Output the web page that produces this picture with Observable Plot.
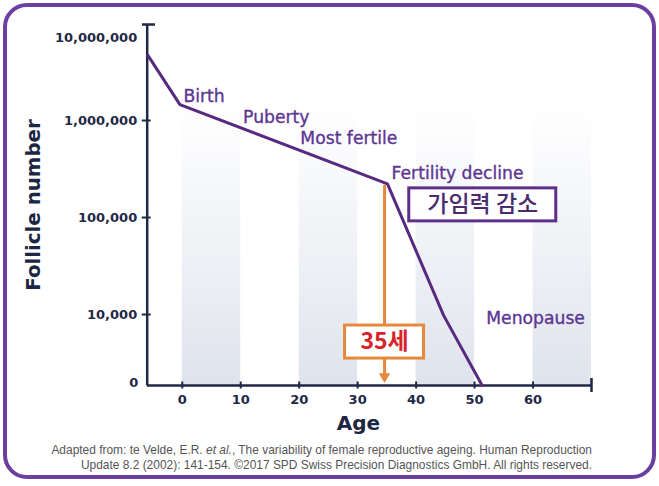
<!DOCTYPE html>
<html>
<head>
<meta charset="utf-8">
<script src="https://cdn.jsdelivr.net/npm/d3@7"></script>
<script src="https://cdn.jsdelivr.net/npm/@observablehq/plot@0.6"></script>
<style>
  html, body { margin: 0; padding: 0; background: #fff; }
  #wrap { position: relative; width: 659px; height: 486px; overflow: hidden; background: #fff; }
  #border { position: absolute; left: 3px; top: 3px; width: 653px; height: 476px; box-sizing: border-box;
            border: 4.5px solid #6b3fa0; border-radius: 24px; }
  #chart { position: absolute; left: 0; top: 0; }
  #caption { position: absolute; right: 67px; top: 443px; text-align: right; font-family: "Liberation Sans", Arial, sans-serif;
             font-size: 11.95px; line-height: 15px; color: #555; white-space: nowrap; }
  g[aria-label="x-axis tick label"] text, g[aria-label="y-axis tick label"] text { font-weight: bold; }
</style>
</head>
<body>
<div id="wrap">
  <div id="border"></div>
  <div id="chart"></div>
  <div id="caption">Adapted from: te Velde, E.R. <i>et al.</i>, The variability of female reproductive ageing. Human Reproduction<br>Update 8.2 (2002): 141-154. ©2017 SPD Swiss Precision Diagnostics GmbH. All rights reserved.</div>
</div>
<script>
// ---- data ----
const ages = [-5.88, -0.4, 35.1, 44.7, 51.3];
const follicles = [4.7e6, 1.46e6, 2.22e5, 9.8e3, 1854];

const xTicks = [0, 10, 20, 30, 40, 50, 60];
const xDomain = [-6, 70];
const yDomain = [1854, 9.77e6];
const yTicks = [1e6, 1e5, 1e4];
const yTickLabels = ["1,000,000", "100,000", "10,000"];
const yTopLabel = "10,000,000";
const yBottomLabel = "0";

const bandStarts = [0, 20, 40, 60];
const bandEnds = [10, 30, 50, 70];

const phaseNames = ["Birth", "Puberty", "Most fertile", "Fertility decline", "Menopause"];
const phaseAges = [0.2, 10.4, 20.2, 35.8, 52.0];
const phaseCounts = [1.77e6, 1.07e6, 6.5e5, 2.84e5, 9.1e3];

const koreanLabel = "가임력 감소";
const koreanAge = 51.4;
const koreanCount = 1.35e5;

const markerLabel = "35세";
const markerAge = 34.6;
const markerLabelCount = 5.2e3;
const arrowTopCount = 2.14e5;
const arrowTipCount = 2.3e3;

const xTitle = "Age";
const yTitle = "Follicle number";

// ---- tables built from arrays ----
const curve = ages.map((a, i) => ({age: a, n: follicles[i]}));
const bands = bandStarts.map((s, i) => ({x1: s, x2: bandEnds[i]}));
const phases = phaseNames.map((t, i) => ({t, age: phaseAges[i], n: phaseCounts[i]}));
const korean = [{t: koreanLabel, age: koreanAge, n: koreanCount}];
const marker = [{t: markerLabel, age: markerAge, n: markerLabelCount, top: arrowTopCount, tip: arrowTipCount}];

const navy = "#1f2847";
const purple = "#57297f";
const labelPurple = "#5c3593";
const orange = "#e6893c";

const plot = Plot.plot({
  width: 659,
  height: 486,
  marginLeft: 146.7,
  marginRight: 68,
  marginTop: 24,
  marginBottom: 101,
  style: {fontFamily: "DejaVu Sans, sans-serif", fontSize: "13px", color: navy, background: "transparent"},
  x: {domain: xDomain},
  y: {type: "log", domain: yDomain},
  marks: [
    Plot.rect(bands, {x1: "x1", x2: "x2", fill: "url(#bandGrad)"}),
    // axis lines
    Plot.ruleY([yDomain[0]], {stroke: navy, strokeWidth: 2.5}),
    Plot.ruleX([xDomain[0]], {stroke: navy, strokeWidth: 2.5}),
    Plot.axisX(xTicks, {tickSize: 7, dy: -3.5, tickPadding: 5.5, strokeWidth: 2, label: null, fontWeight: "bold"}),
    Plot.axisX([xDomain[1]], {tickSize: 14, dy: -7, strokeWidth: 2.5, tickFormat: () => "", label: null}),
    Plot.axisY(yTicks, {tickSize: 9, dx: 4, tickPadding: 5, strokeWidth: 2, label: null,
      tickFormat: (d) => yTickLabels[yTicks.indexOf(d)], fontWeight: "bold"}),
    Plot.axisY([yDomain[1]], {tickSize: 13, dx: 8.3, strokeWidth: 2.5, tickFormat: () => "", label: null}),
    Plot.text([yTopLabel], {x: xDomain[0], y: yDomain[1], text: (d) => d, textAnchor: "end", dx: -10, dy: 13,
      fontWeight: "bold", fontSize: 13, fill: navy}),
    Plot.text([yBottomLabel], {x: xDomain[0], y: yDomain[0], text: (d) => d, textAnchor: "end", dx: -9, dy: -3,
      fontWeight: "bold", fontSize: 13, fill: navy}),
    // axis titles
    Plot.text([yTitle], {frameAnchor: "left", text: (d) => d, rotate: -90, textAnchor: "middle", dx: -114,
      fontSize: 19.8, fontWeight: "bold", fill: "#1c2541"}),
    Plot.text([xTitle], {frameAnchor: "bottom", text: (d) => d, textAnchor: "middle", lineAnchor: "middle",
      dy: 38, dx: -11, fontSize: 20, fontWeight: "bold", fill: "#1c2541"}),
    // orange arrow
    Plot.ruleX(marker, {x: "age", y1: "top", y2: "tip", stroke: orange, strokeWidth: 3}),
    Plot.dot(marker, {x: "age", y: "tip", symbol: "triangle", rotate: 180, r: 4.2, fill: orange, stroke: "none"}),
    // curve
    Plot.line(curve, {x: "age", y: "n", stroke: purple, strokeWidth: 3, strokeLinejoin: "miter"}),
    // boxes
    Plot.rect(korean, {x1: "age", x2: "age", y1: "n", y2: "n", insetLeft: -73.5, insetRight: -73.5,
      insetTop: -16.5, insetBottom: -16.5, fill: "white", stroke: "#5e2f8a", strokeWidth: 3}),
    Plot.rect(marker, {x1: "age", x2: "age", y1: "n", y2: "n", insetLeft: -39.5, insetRight: -39.5,
      insetTop: -16.5, insetBottom: -16.5, fill: "white", stroke: orange, strokeWidth: 3}),
    // texts
    Plot.text(phases, {x: "age", y: "n", text: "t", textAnchor: "start", fontSize: 17.2, fill: labelPurple,
      stroke: labelPurple, strokeWidth: 0.35}),
    Plot.text(korean, {x: "age", y: "n", text: "t", fontSize: 23, fontFamily: "Noto Sans CJK KR",
      fontWeight: 500, fill: "#4a2b6e"}),
    Plot.text(marker, {x: "age", y: "n", text: "t", fontSize: 23, fontFamily: "Noto Sans CJK KR",
      fontWeight: "bold", fill: "#d8232a"})
  ]
});

// gradient for background bands
const svg = d3.select(plot);
const defs = svg.insert("defs", ":first-child");
const grad = defs.append("linearGradient").attr("id", "bandGrad")
  .attr("x1", 0).attr("y1", 0).attr("x2", 0).attr("y2", 1);
grad.append("stop").attr("offset", 0.22).attr("stop-color", "#e2e6ee").attr("stop-opacity", 0);
grad.append("stop").attr("offset", 1).attr("stop-color", "#dfe3ec").attr("stop-opacity", 1);

document.getElementById("chart").appendChild(plot);
</script>
</body>
</html>
